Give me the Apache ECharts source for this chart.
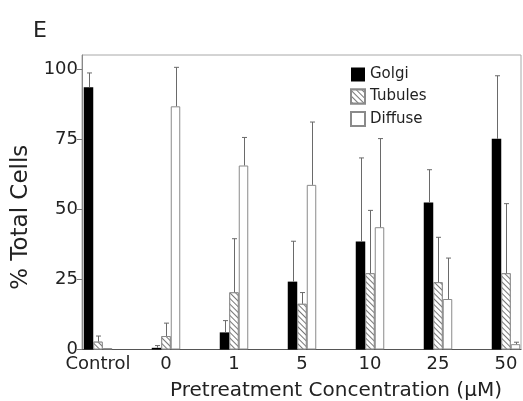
<!DOCTYPE html>
<html>
<head>
<meta charset="utf-8">
<title>E</title>
<script src="https://cdn.jsdelivr.net/npm/echarts@6/dist/echarts.min.js"></script>
<style>
  html, body { margin: 0; padding: 0; background: #fff; }
  #chart { width: 523px; height: 401px; }
</style>
</head>
<body>
<div id="chart"></div>
<script>
  // categories (pretreatment concentration)
  var categories = ['Control', '0', '1', '5', '10', '25', '50'];

  // % total cells
  var golgi    = [93.5, 0.6, 6.1, 24.2, 38.5, 52.4, 75.1];
  var tubules  = [2.8, 4.8, 20.4, 16.3, 27.2, 24.0, 27.2];
  var diffuse  = [0.5, 86.7, 65.6, 58.7, 43.6, 18.0, 1.9];

  // top of the error bars
  var golgiErr   = [98.6, 1.4, 10.3, 38.6, 68.3, 64.1, 97.6];
  var tubulesErr = [4.8, 9.4, 39.5, 20.3, 49.6, 40.0, 52.0];
  var diffuseErr = [null, 100.6, 75.6, 81.1, 75.2, 32.6, 2.6];

  var yTicks = [0, 25, 50, 75, 100];

  var barW = 9.5;
  var font = 'DejaVu Sans';

  function errData(vals, errs) {
    var out = [];
    for (var i = 0; i < vals.length; i++) {
      if (errs[i] != null) out.push([i, vals[i], errs[i]]);
    }
    return out;
  }

  function errSeries(name, vals, errs, off) {
    return {
      name: name,
      type: 'custom',
      xAxisIndex: 1, yAxisIndex: 1,
      z: 5,
      silent: true,
      data: errData(vals, errs),
      renderItem: function (params, api) {
        var p0 = api.coord([api.value(0), api.value(1)]);
        var p1 = api.coord([api.value(0), api.value(2)]);
        var cx = Math.round(p0[0] + off) + 0.5;
        var st = { stroke: '#6a6a6a', lineWidth: 1 };
        return {
          type: 'group',
          children: [
            { type: 'line', shape: { x1: cx, y1: p0[1], x2: cx, y2: p1[1] }, style: st },
            { type: 'line', shape: { x1: cx - 2.5, y1: p1[1], x2: cx + 2.5, y2: p1[1] }, style: st }
          ]
        };
      }
    };
  }

  var hatch = {
    symbol: 'rect',
    symbolSize: 1,
    symbolKeepAspect: false,
    color: '#777',
    backgroundColor: '#fff',
    dashArrayX: [1, 0],
    dashArrayY: [1, 2.2],
    rotation: Math.PI / 4
  };

  var chart = echarts.init(document.getElementById('chart'));

  var option = {
    animation: false,
    backgroundColor: '#fff',
    textStyle: { fontFamily: font },
    title: {
      text: 'E',
      left: 28, top: 15,
      textStyle: { fontFamily: font, fontSize: 22, fontWeight: 'normal', color: '#222' }
    },
    legend: {
      data: ['Golgi', 'Tubules', 'Diffuse'],
      orient: 'vertical',
      left: 345, top: 62,
      itemWidth: 14, itemHeight: 14, itemGap: 6.5,
      icon: 'rect',
      textStyle: { fontFamily: font, fontSize: 15, color: '#222' }
    },
    grid: [
      // frame + y axis
      { left: 82, top: 55, width: 439, height: 294.5, show: true, borderColor: '#a8a8a8', borderWidth: 1,
        outerBoundsMode: 'none' },
      // bars (category bands of 68px)
      { left: 64, top: 55, width: 476, height: 294.5, outerBoundsMode: 'none' }
    ],
    xAxis: [
      {
        gridIndex: 0, type: 'value', min: 0, max: 1,
        axisLine: { show: true, lineStyle: { color: '#555' } },
        axisTick: { show: false }, axisLabel: { show: false }, splitLine: { show: false }
      },
      {
        gridIndex: 1, type: 'category', data: categories,
        axisLine: { show: false }, axisTick: { show: false },
        axisLabel: { fontFamily: font, fontSize: 18, color: '#222', margin: 6, interval: 0 },
        name: 'Pretreatment Concentration (μM)',
        nameLocation: 'middle',
        nameGap: 31,
        nameTextStyle: { fontFamily: font, fontSize: 20, color: '#222', padding: [0, 0, 0, 68] }
      }
    ],
    yAxis: [
      {
        gridIndex: 0, type: 'value', min: 0, max: 105,
        axisLine: { show: true, lineStyle: { color: '#888' } },
        axisTick: { show: true, length: 5, customValues: yTicks, lineStyle: { color: '#777' } },
        axisLabel: { fontFamily: font, fontSize: 18, color: '#222', margin: 4, customValues: yTicks },
        splitLine: { show: false },
        name: '% Total Cells',
        nameLocation: 'middle',
        nameGap: 46,
        nameTextStyle: { fontFamily: font, fontSize: 23, color: '#222', padding: [0, 30, 0, 0] }
      },
      {
        gridIndex: 1, type: 'value', min: 0, max: 105, show: false
      }
    ],
    series: [
      {
        name: 'Golgi', type: 'bar', xAxisIndex: 1, yAxisIndex: 1,
        barWidth: barW, barGap: '0%',
        itemStyle: { color: '#000', borderColor: '#000', borderWidth: 0 },
        data: golgi
      },
      {
        name: 'Tubules', type: 'bar', xAxisIndex: 1, yAxisIndex: 1,
        barWidth: barW, barGap: '0%',
        itemStyle: { color: '#fff', borderColor: '#8a8a8a', borderWidth: 1, decal: hatch },
        data: tubules
      },
      {
        name: 'Diffuse', type: 'bar', xAxisIndex: 1, yAxisIndex: 1,
        barWidth: barW, barGap: '0%',
        itemStyle: { color: '#fff', borderColor: '#8a8a8a', borderWidth: 1 },
        data: diffuse
      },
      errSeries('eGolgi', golgi, golgiErr, -barW),
      errSeries('eTubules', tubules, tubulesErr, 0),
      errSeries('eDiffuse', diffuse, diffuseErr, barW)
    ]
  };

  chart.setOption(option);
</script>
</body>
</html>
